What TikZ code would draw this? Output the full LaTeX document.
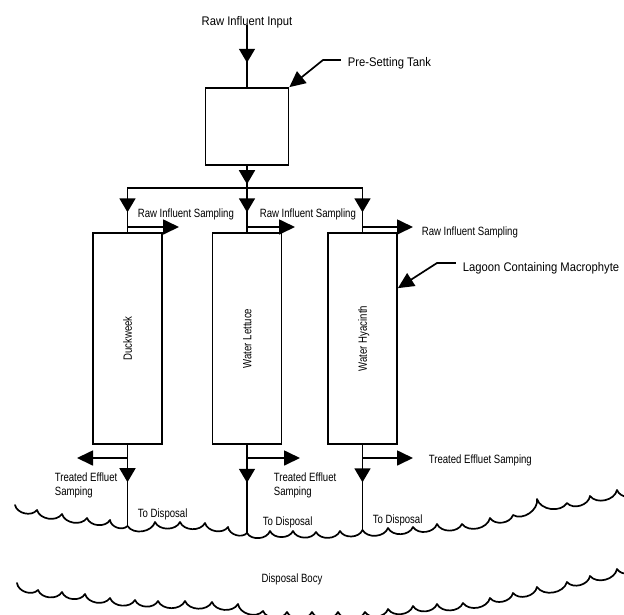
\documentclass[tikz,border=0pt]{standalone}
\usepackage{fontspec}
\setmainfont{Liberation Sans}[FakeStretch=0.8]
\newfontfamily\widefont{Liberation Sans}[FakeStretch=0.9]
\usetikzlibrary{arrows.meta,decorations.markings}

\begin{document}
\begin{tikzpicture}[
    x=1pt, y=-1pt,
    % shared line and text styles
    line width=1.7pt, line cap=rect,
    tank_box/.style={draw, minimum width=83pt, minimum height=77pt, inner sep=0},
    lagoon_box/.style={draw, minimum width=69pt, minimum height=211pt, inner sep=0},
    label_text/.style={font=\fontsize{12}{14}\selectfont, inner sep=0, text height=8.6pt, text depth=0pt},
    wide_text/.style={label_text, font=\widefont\fontsize{12.5}{14}\selectfont},
    note_text/.style={font=\fontsize{12}{14}\selectfont, inner sep=0, align=left},
    tip_arrow/.style={-{Triangle[width=15pt,length=16pt]}},
    mid_arrow/.style={postaction={decorate}, decoration={markings,
        mark=at position #1 with {\arrow{Triangle[width=16pt,length=14pt]}}}},
    wave_line/.style={line cap=round, line join=round}
]

    % --- macro for one lagoon column ---
    \newcommand{\lagoon}[3]{
        \node[lagoon_box] (#1) at (#2,338.5) {};
        \node[label_text, rotate=90] (#1_name) at (#1.center) {#3};
    }

    \useasboundingbox (0,0) rectangle (624,614);
    \clip (0,0) rectangle (624,614);

    % --- pre-setting tank ---
    \node[wide_text] (raw_in) at (247,21) {Raw Influent Input};
    \node[tank_box] (tank) at (247,126.5) {};
    \draw[mid_arrow=0.6] (raw_in.south) -- (tank.north);

    \node[wide_text, anchor=west] (tank_lbl) at (347,62) {Pre-Setting Tank};
    \draw[tip_arrow] ([shift={(-7pt,2pt)}]tank_lbl.west) -- ++(-17,0) -- (tank.north east);

    % --- lagoons ---
    \lagoon{duck}{127.5}{Duckweek}
    \lagoon{lett}{247}{Water Lettuce}
    \lagoon{hyac}{362.5}{Water Hyacinth}

    \node[wide_text, anchor=west] (lagoon_lbl) at (462,267) {Lagoon Containing Macrophyte};
    \draw[tip_arrow] ([shift={(-7pt,4pt)}]lagoon_lbl.west) -- ++(-18,0) -- ([yshift=-56pt]hyac.north east);

    % --- split to the lagoons ---
    \coordinate (split) at (247,188);
    \coordinate (split_l) at (duck.north |- split);
    \coordinate (split_r) at (hyac.north |- split);
    \draw[mid_arrow=0.83] (tank.south) -- (split);
    \draw (split_l) -- (split_r);
    \foreach \col/\tipx in {duck/179, lett/295, hyac/413} {
        \draw[mid_arrow=0.55] (\col.north |- split) -- (\col.north);
        % influent sampling
        \coordinate (\col_in) at (\col.north |- 0,227);
        \coordinate (\col_in_end) at (\tipx,227);
        \draw[tip_arrow] (\col_in) -- (\col_in_end);
    }

    \node[label_text, anchor=west] (duck_in_lbl) at (137,213) {Raw Influent Sampling};
    \node[label_text, anchor=west] (lett_in_lbl) at (259,213) {Raw Influent Sampling};
    \node[label_text, anchor=west] (hyac_in_lbl) at (421,231) {Raw Influent Sampling};

    % --- outflow and effluent sampling ---
    \foreach \col/\wy/\pos/\tipx in {duck/526/0.46/77, lett/533/0.43/300, hyac/530/0.44/413} {
        \coordinate (\col_pool) at (\col.south |- 0,\wy);
        \coordinate (\col_out) at (\col.south |- 0,458);
        \coordinate (\col_out_end) at (\tipx,458);
        \draw[mid_arrow=\pos] (\col.south) -- (\col_pool);
        \draw[tip_arrow] (\col_out) -- (\col_out_end);
    }

    \node[note_text, anchor=north west] (duck_out_lbl) at (54,472) {Treated Effluet\\Samping};
    \node[note_text, anchor=north west] (lett_out_lbl) at (273,472) {Treated Effluet\\Samping};
    \node[label_text, anchor=west] (hyac_out_lbl) at (428,459) {Treated Effluet Samping};

    \node[label_text, anchor=west] (duck_pool_lbl) at (137,513) {To Disposal};
    \node[label_text, anchor=west] (lett_pool_lbl) at (262,521) {To Disposal};
    \node[label_text, anchor=west] (hyac_pool_lbl) at (372,519) {To Disposal};

    % --- disposal body ---
    \draw[wave_line] (15,505) \foreach \wx/\wy in {37/510, 62/514, 87/518, 110/520, 127.5/526,
        155/522, 180/522, 205/523, 228/527, 247/533, 270/531, 293/531, 316/532, 340/531,
        362.5/530, 388/528, 413/527, 437/524, 462/524, 490/518, 513/515, 537/499, 567/503,
        590/496, 617/490, 640/492} { to[bend right=65] (\wx,\wy) };
    \draw[wave_line] (17,583) \foreach \wx/\wy in {38/590, 62/592, 85/594, 110/598, 135/600,
        158/601, 185/601, 212/602, 238/604, 263/611, 287/612, 312/612, 338/612, 365/612,
        388/609, 413/606, 437/604, 463/603, 490/598, 513/593, 537/587, 567/582, 590/576,
        617/569, 640/566} { to[bend right=65] (\wx,\wy) };

    \node[label_text] (body_lbl) at (292,578) {Disposal Bocy};

\end{tikzpicture}
\end{document}
